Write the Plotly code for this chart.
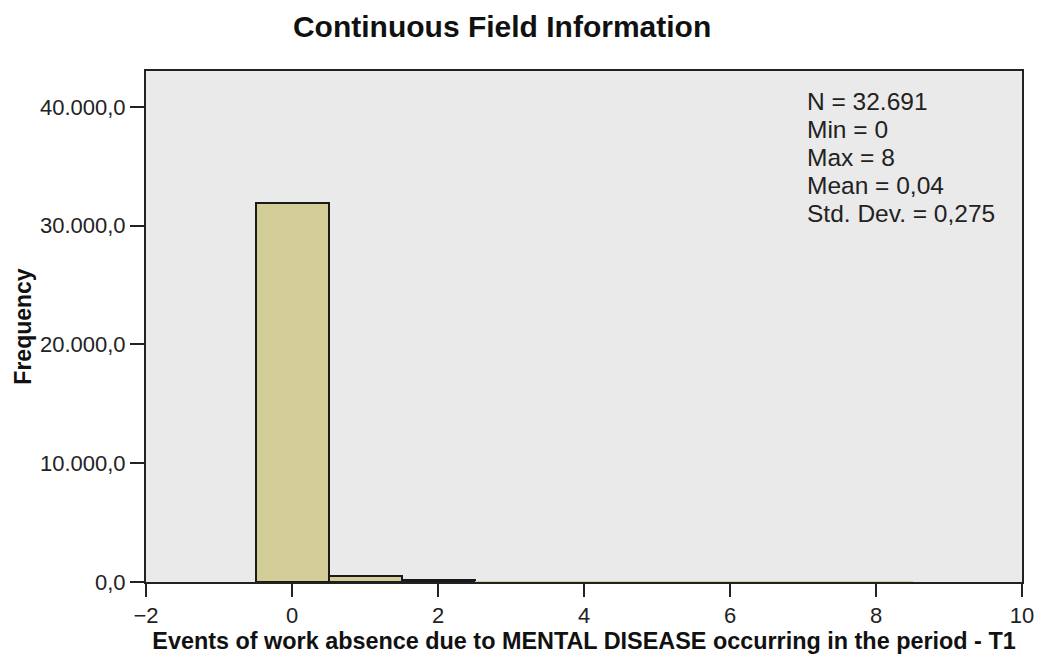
import plotly.graph_objects as go

# histogram bins (centers) and counts
bin_centers = [0, 1, 2, 3, 4, 5, 6, 7, 8]
counts = [31900, 520, 160, 60, 25, 12, 7, 4, 3]

x_ticks = [-2, 0, 2, 4, 6, 8, 10]
y_ticks = [0, 10000, 20000, 30000, 40000]
y_tick_text = ["0,0", "10.000,0", "20.000,0", "30.000,0", "40.000,0"]

stats_lines = ["N = 32.691", "Min = 0", "Max = 8", "Mean = 0,04", "Std. Dev. = 0,275"]

font = "Liberation Sans, Arial, sans-serif"

# SPSS skips the outline of bars too small to be seen
outline = [2 if c >= 100 else 0 for c in counts]

fig = go.Figure()
fig.add_trace(
    go.Bar(
        x=bin_centers,
        y=counts,
        width=1,
        marker={"color": "#d3ce97", "line": {"color": "#1a1a1a", "width": outline}},
        showlegend=False,
    ),
)

# one annotation per line: SPSS packs the stats lines tighter than <br> would
for i, line in enumerate(stats_lines):
    fig.add_annotation(
        x=0.753, y=0.94 - i * 0.0545, xref="paper", yref="paper",
        xanchor="left", yanchor="middle", align="left",
        showarrow=False, borderpad=0,
        text=line,
        font={"family": font, "size": 24.5, "color": "#222"},
    )

# the page body has an 8px margin, so the figure is a little smaller than the window
fig.update_layout(
    width=1038,
    height=651,
    paper_bgcolor="white",
    plot_bgcolor="#eaeaea",
    font={"family": font, "color": "#222"},
    title={
        "text": "<b>Continuous Field Information</b>",
        "x": 0.476, "xanchor": "center", "y": 0.972, "yanchor": "middle",
        "font": {"size": 30, "color": "#111"},
    },
    margin={"l": 138, "r": 19, "t": 63, "b": 77},
    bargap=0,
    xaxis={
        "range": [-2, 10],
        "tickvals": x_ticks,
        "ticks": "outside", "ticklen": 13, "tickwidth": 2, "tickcolor": "#222",
        "showgrid": False, "zeroline": False,
        "showline": True, "linecolor": "#222", "linewidth": 2, "mirror": True,
        "tickfont": {"size": 22},
        "title": {"text": "<b>Events of work absence due to MENTAL DISEASE occurring in the period - T1</b>",
                  "font": {"size": 23.4, "color": "#111"}, "standoff": 0},
    },
    yaxis={
        "range": [0, 43030],
        "tickvals": y_ticks,
        "ticktext": y_tick_text,
        "ticks": "outside", "ticklen": 14, "tickwidth": 2, "tickcolor": "#222",
        "showgrid": False, "zeroline": False,
        "showline": True, "linecolor": "#222", "linewidth": 2, "mirror": True,
        "tickfont": {"size": 22},
        "title": {"text": "<b>Frequency</b>", "font": {"size": 23, "color": "#111"}, "standoff": 2},
    },
)

fig.write_html("out.html")
